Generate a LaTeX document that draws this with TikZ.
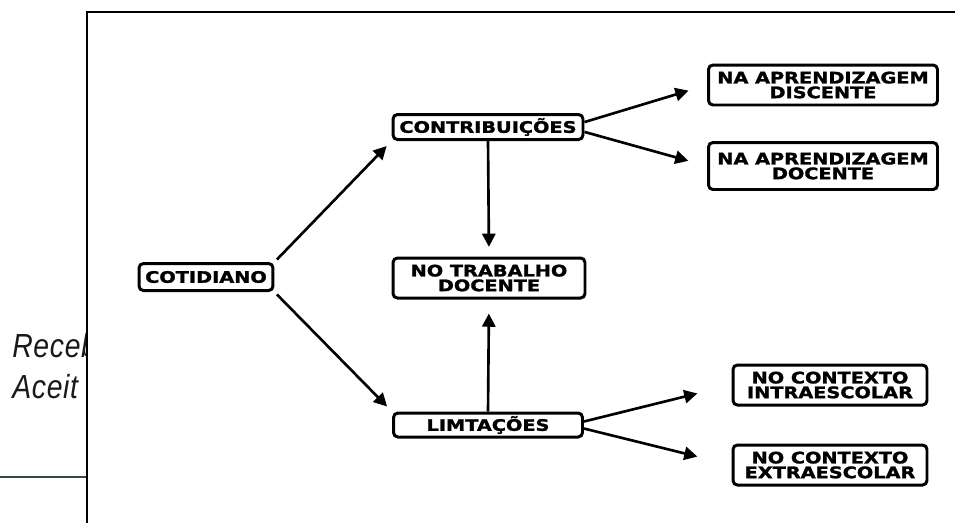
\documentclass[tikz,border=0pt]{standalone}
\usepackage{fontspec}
\usetikzlibrary{arrows.meta}
\newfontfamily\boxfont{DejaVu Sans}[FakeStretch=1.22,BoldFeatures={FakeBold=1.6}]
\newfontfamily\notefont{Liberation Sans}[FakeStretch=0.85,LetterSpace=2]
\definecolor{rulegreen}{HTML}{3A4A3A}

\begin{document}
\begin{tikzpicture}%
  [x=0.02cm,y=-0.02cm,
   item/.style=
    {draw,line width=1.7pt,rounded corners=2.5pt,align=center,inner sep=0pt,
     font=\boxfont\bfseries\fontsize{9}{8.4}\selectfont},
   note/.style=
    {anchor=base west,inner sep=0pt,text=black!90,
     font=\notefont\itshape\fontsize{19}{20}\selectfont},
   flow/.style={line width=1.5pt,-{Triangle[length=7.5pt,width=7.5pt]}}
  ]
  \useasboundingbox (0,0) rectangle (955,522);
  % page behind the figure
  \node[note] (rec) at (12,357) {Receb};
  \node[note] (acc) at (12,398) {Aceit};
  \draw[rulegreen,line width=0.8pt] (0,477) -- (87,477);
  \fill[white] (87,12) rectangle (960,530);
  \draw[line width=1.5pt] (87,530) -- (87,12) -- (960,12);
  % boxes
  \node[item,minimum width=2.68cm,minimum height=0.54cm] (cot) at (206,277) {COTIDIANO};
  \node[item,minimum width=3.8cm,minimum height=0.5cm] (contr) at (488,127) {CONTRIBUIÇÕES};
  \node[item,minimum width=3.78cm,minimum height=0.48cm] (limt) at (488,425) {LIMTAÇÕES};
  \node[item,minimum width=3.84cm,minimum height=0.8cm] (trab) at (489,278) {NO TRABALHO\\DOCENTE};
  \node[item,minimum width=4.58cm,minimum height=0.8cm] (disc) at (823,85) {NA APRENDIZAGEM\\DISCENTE};
  \node[item,minimum width=4.58cm,minimum height=0.94cm] (doc) at (823,166) {NA APRENDIZAGEM\\DOCENTE};
  \node[item,minimum width=3.88cm,minimum height=0.8cm] (intra) at (830,385) {NO CONTEXTO\\INTRAESCOLAR};
  \node[item,minimum width=3.88cm,minimum height=0.8cm] (extra) at (830,465) {NO CONTEXTO\\EXTRAESCOLAR};
  % arrows
  \draw[flow,shorten <=2pt,shorten >=4pt] (cot.north east) -- (contr.south west);
  \draw[flow,shorten <=2pt,shorten >=4pt] (cot.south east) -- (limt.north west);
  \draw[flow,shorten >=5.5pt] (contr.south) -- (trab.north);
  \draw[flow,shorten >=8pt] (limt.north) -- (trab.south);
  \draw[flow,shorten >=11pt] ([yshift=2.8pt]contr.east) -- (disc.west);
  \draw[flow,shorten >=11pt] ([yshift=-2.8pt]contr.east) -- (doc.west);
  \draw[flow,shorten >=20pt] ([yshift=2pt]limt.east) -- (intra.west);
  \draw[flow,shorten >=20pt] ([yshift=-2pt]limt.east) -- (extra.west);
\end{tikzpicture}
\end{document}
